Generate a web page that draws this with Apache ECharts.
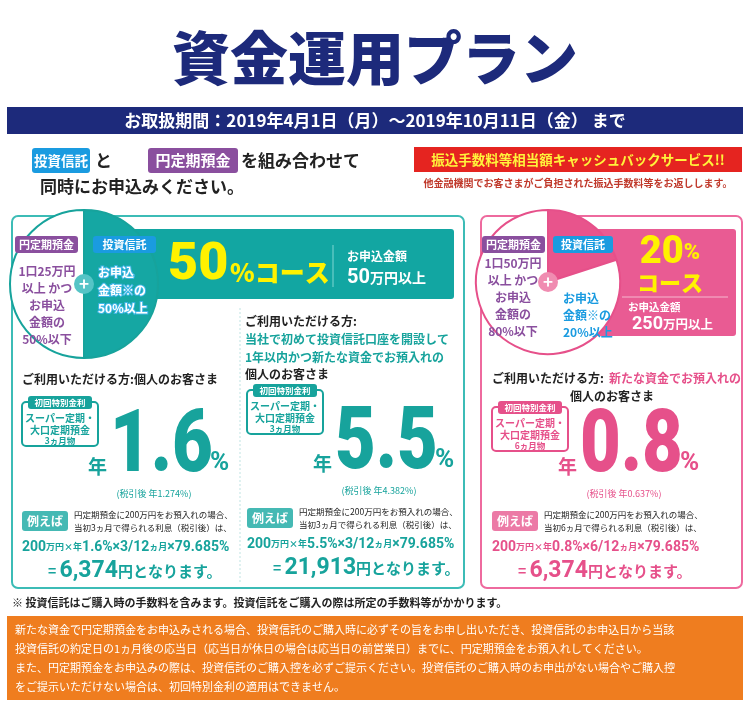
<!DOCTYPE html>
<html><head><meta charset="utf-8">
<script src="https://cdn.jsdelivr.net/npm/echarts@6/dist/echarts.min.js"></script>
<style>html,body{margin:0;padding:0;background:#fff}#c{width:750px;height:705px}</style>
</head><body><div id="c"></div>
<script>
// コースごとの配分（投資信託 / 円定期預金）
const courseNames = ["50%コース", "20%コース"];
const trustShare = [50, 20];
const depositShare = [50, 80];
const rates = ["1.6", "5.5", "0.8"];
const afterTax = ["1.274", "4.382", "0.637"];
const months = [3, 3, 6];
const interest = ["6,374", "21,913", "6,374"];

const F = '"Noto Sans CJK JP", sans-serif';
const NUM = 'Roboto, "Noto Sans CJK JP", sans-serif';
const TEAL = "#17a39c", PINK = "#e6508a", NAVY = "#1d2a7b", PURPLE = "#8a4f9e", BLUE = "#1a9be0";

let g = [];
function t(x, y, text, size, color, o) {
    o = o || {};
    g.push({
        type: "text", x: x, y: y, z: o.z || 20, scaleX: o.sx || 1,
        style: {
            text: text, fontSize: size, fill: color, fontFamily: o.f || F, fontWeight: o.w || "bold",
            textAlign: o.align || "left", textVerticalAlign: "middle",
            stroke: o.stroke, lineWidth: o.lw || 0, rich: o.rich
        }
    });
}
function r(x, y, w, h, fill, o) {
    o = o || {};
    g.push({
        type: "rect", z: o.z || 5, shape: { x: x, y: y, width: w, height: h, r: o.r || 0 },
        style: { fill: fill, stroke: o.stroke, lineWidth: o.lw || 0 }
    });
}
function badge(x, y, w, h, fill, text, size) {
    r(x, y, w, h, fill, { r: 3, z: 18 });
    t(x + w / 2, y + h / 2, text, size, "#fff", { align: "center" });
}

// タイトル
t(375, 58, "資金運用プラン", 58, NAVY, { align: "center", w: 900 });
r(7, 107, 736, 27, NAVY);
t(375, 121, "お取扱期間：2019年4月1日（月）～2019年10月11日（金） まで", 17, "#fff", { align: "center" });

// 組み合わせ
badge(32, 148, 58, 25, BLUE, "投資信託", 13.5);
t(95, 161, "と", 17, "#222");
badge(148, 148, 90, 25, PURPLE, "円定期預金", 15);
t(241, 161, "を組み合わせて", 17, "#222");
t(40, 187, "同時にお申込みください。", 17, "#222");
r(414, 147, 328, 25, "#e52420");
t(578, 160, "振込手数料等相当額キャッシュバックサービス!!", 13.5, "#fff33b", { align: "center" });
t(578, 183, "他金融機関でお客さまがご負担された振込手数料等をお返しします。", 10, "#c0392b", { align: "center" });

// 枠
r(12, 216, 452, 372, "#fff", { r: 6, stroke: "#3cbcb6", lw: 2, z: 1 });
r(481, 216, 261, 372, "#fff", { r: 6, stroke: "#ee6a9e", lw: 2, z: 1 });
g.push({ type: "line", z: 3, shape: { x1: 240, y1: 308, x2: 240, y2: 582 }, style: { stroke: "#bfe3e2", lineWidth: 1, lineDash: [2, 2] } });

// 50%バナー
r(86, 229, 368, 70, "#12a6a2", { r: 3, z: 1 });
t(168, 266, "50", 52, "#fff200", { w: 900, f: NUM });
t(230, 272, "%コース", 25, "#fff200", { w: 900 });
g.push({ type: "line", z: 6, shape: { x1: 333, y1: 245, x2: 333, y2: 287 }, style: { stroke: "#7fd6d2", lineWidth: 1 } });
t(347, 256, "お申込金額", 12, "#fff");
t(347, 278, "{n|50}{k|万円以上}", 16, "#fff", {
    rich: { n: { fontSize: 20, fontWeight: "bold", fill: "#fff", fontFamily: NUM }, k: { fontSize: 14, fontWeight: "bold", fill: "#fff", fontFamily: F } }
});

// 20%バナー
r(588, 229, 148, 107, "#e95b93", { r: 3, z: 1 });
t(670, 253, "{n|20}{p|%}", 34, "#fff200", {
    align: "center",
    rich: { n: { fontSize: 38, fontWeight: 900, fill: "#fff200", fontFamily: NUM }, p: { fontSize: 22, fontWeight: 900, fill: "#fff200", fontFamily: NUM } }
});
t(670, 283, "コース", 22, "#fff200", { align: "center", w: 900 });
g.push({ type: "line", z: 6, shape: { x1: 622, y1: 297, x2: 728, y2: 297 }, style: { stroke: "#f6b9cf", lineWidth: 1 } });
t(628, 307, "お申込金額", 10.5, "#fff");
t(632, 324, "{n|250}{k|万円以上}", 15, "#fff", {
    rich: { n: { fontSize: 18, fontWeight: "bold", fill: "#fff", fontFamily: NUM }, k: { fontSize: 12.5, fontWeight: "bold", fill: "#fff", fontFamily: F } }
});

// 円グラフ上の文字（左）
badge(15, 236, 63, 17, PURPLE, "円定期預金", 11);
["1口25万円", "以上 かつ", "お申込", "金額の", "50%以下"].forEach((s, i) => t(47, 271 + i * 17, s, 12, PURPLE, { align: "center" }));
badge(93, 236, 63, 17, BLUE, "投資信託", 11);
["お申込", "金額※の", "50%以上"].forEach((s, i) => t(98, 272 + i * 18, s, 12, "#fff", { stroke: "#3fb6e6", lw: 2 }));
g.push({ type: "circle", z: 19, shape: { cx: 84, cy: 284, r: 10 }, style: { fill: "#55c4c6" } });
t(84, 284, "+", 17, "#fff", { align: "center" });

// 円グラフ上の文字（右）
badge(482, 236, 63, 17, PURPLE, "円定期預金", 11);
["1口50万円", "以上 かつ", "お申込", "金額の", "80%以下"].forEach((s, i) => t(513, 263 + i * 17, s, 12, PURPLE, { align: "center" }));
badge(553, 236, 60, 17, BLUE, "投資信託", 11);
["お申込", "金額※の", "20%以上"].forEach((s, i) => t(563, 298 + i * 17, s, 12, BLUE));
g.push({ type: "circle", z: 19, shape: { cx: 548, cy: 282, r: 10 }, style: { fill: "#f08cb1" } });
t(548, 282, "+", 17, "#fff", { align: "center" });

// 各コラム
const cols = [
    { x: 20, c: TEAL },
    { x: 245, c: TEAL },
    { x: 490, c: PINK }
];
t(22, 379, "ご利用いただける方:個人のお客さま", 12, "#222");
t(245, 321, "ご利用いただける方:", 12, "#222");
t(245, 339, "当社で初めて投資信託口座を開設して", 12, TEAL);
t(245, 357, "1年以内かつ新たな資金でお預入れの", 12, TEAL);
t(245, 374, "個人のお客さま", 12, "#222");
t(492, 378, "ご利用いただける方:", 12, "#222");
t(609, 378, "新たな資金でお預入れの", 12, PINK);
t(612, 396, "個人のお客さま", 12, "#222", { align: "center" });

cols.forEach((cl, i) => {
    const x = cl.x, top = i === 2 ? 401 : (i === 1 ? 384 : 396);
    r(x + 2, top + 6, 76, 44, "#fff", { r: 4, stroke: cl.c, lw: 2, z: 8 });
    badge(x + 8, top, 64, 13, cl.c, "初回特別金利", 8.5);
    t(x + 40, top + 22, "スーパー定期・", 10, cl.c, { align: "center" });
    t(x + 40, top + 34, "大口定期預金", 10, cl.c, { align: "center" });
    t(x + 40, top + 45, months[i] + "ヵ月物", 8.5, cl.c, { align: "center" });
    const ry = i === 1 ? 446 : 449;
    t(x + 68, ry + 18, "年", 19, cl.c);
    t(x + 90, ry, rates[i], 88, cl.c, { w: 900, f: NUM, sx: 0.8 });
    t(x + 190, ry + 14, "%", 26, cl.c, { f: NUM });
    t(x + 134, ry + 45, "(税引後 年" + afterTax[i] + "%)", 9, cl.c, { align: "center", w: "normal" });
    const ey = ry + 62;
    badge(x + 2, ey, 46, 20, i === 2 ? "#ec7aa6" : "#45b9b4", "例えば", 12);
    t(x + 54, ey + 4, "円定期預金に200万円をお預入れの場合、", 8.5, "#222", { w: "normal" });
    t(x + 54, ey + 17, "当初" + months[i] + "ヵ月で得られる利息（税引後）は、", 8.5, "#222", { w: "normal" });
    const n = { fontSize: 14, fontWeight: "bold", fill: cl.c, fontFamily: NUM };
    const k = { fontSize: 9, fontWeight: "bold", fill: cl.c, fontFamily: F };
    t(x + 2, ey + 36, "{n|200}{k|万円×年}{n|" + rates[i] + "%×" + months[i] + "/12}{k|ヵ月}{n|×79.685%}", 14, cl.c, { rich: { n: n, k: k } });
    t(x + 28, ey + 60, "{e|= }{a|" + interest[i] + "}{b|円となります。}", 16, cl.c, {
        rich: {
            e: { fontSize: 14, fontWeight: "bold", fill: cl.c, fontFamily: F },
            a: { fontSize: 23, fontWeight: "bold", fill: cl.c, fontFamily: NUM },
            b: { fontSize: 15, fontWeight: "bold", fill: cl.c, fontFamily: F }
        }
    });
});

// 注記
t(12, 603, "※ 投資信託はご購入時の手数料を含みます。投資信託をご購入の際は所定の手数料等がかかります。", 11, "#222");
r(7, 616, 736, 84, "#ef7d1f");
[
    "新たな資金で円定期預金をお申込みされる場合、投資信託のご購入時に必ずその旨をお申し出いただき、投資信託のお申込日から当該",
    "投資信託の約定日の1ヵ月後の応当日（応当日が休日の場合は応当日の前営業日）までに、円定期預金をお預入れしてください。",
    "また、円定期預金をお申込みの際は、投資信託のご購入控を必ずご提示ください。投資信託のご購入時のお申出がない場合やご購入控",
    "をご提示いただけない場合は、初回特別金利の適用はできません。"
].forEach((s, i) => t(15, 630 + i * 19, s, 11, "#fff", { w: "normal" }));

const chart = echarts.init(document.getElementById("c"));
chart.setOption({
    animation: false,
    graphic: g,
    series: [
        {
            type: "pie", z: 10, center: [84, 284], radius: [0, 74], startAngle: 90, silent: true,
            label: { show: false },
            itemStyle: { borderColor: TEAL, borderWidth: 2 },
            data: [
                { name: "投資信託", value: trustShare[0], itemStyle: { color: "#15a7a3" } },
                { name: "円定期預金", value: depositShare[0], itemStyle: { color: "#fff" } }
            ]
        },
        {
            type: "pie", z: 10, center: [548, 282], radius: [0, 72], startAngle: 90, silent: true,
            label: { show: false },
            itemStyle: { borderColor: PINK, borderWidth: 2 },
            data: [
                { name: "投資信託", value: trustShare[1], itemStyle: { color: "#e8548c" } },
                { name: "円定期預金", value: depositShare[1], itemStyle: { color: "#fff" } }
            ]
        }
    ]
});
</script>
</body></html>
